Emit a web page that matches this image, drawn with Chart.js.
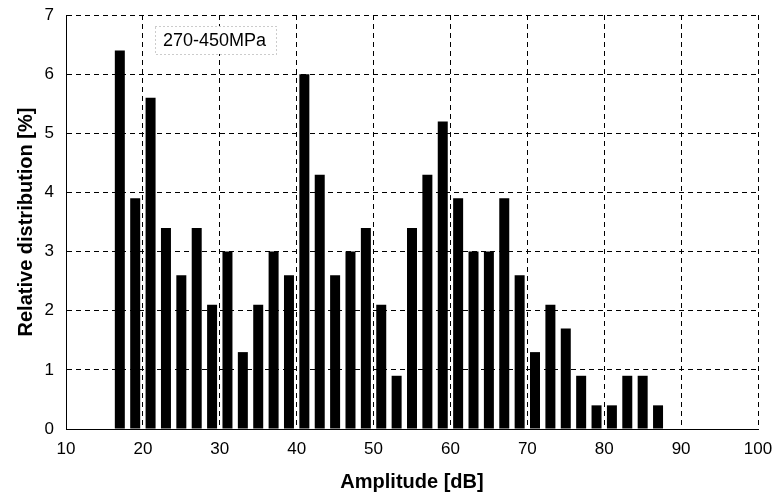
<!DOCTYPE html>
<html>
<head>
<meta charset="utf-8">
<script src="https://cdn.jsdelivr.net/npm/chart.js@4/dist/chart.umd.min.js"></script>
<style>
  html, body { margin: 0; padding: 0; background: #fff; }
  #wrap { width: 776px; height: 498px; }
</style>
</head>
<body>
<div id="wrap"><canvas id="chart"></canvas></div>
<script>
// amplitude classes (dB) and relative distribution (%)
const amplitudes = [17, 19, 21, 23, 25, 27, 29, 31, 33, 35, 37, 39, 41, 43, 45, 47, 49, 51,
                    53, 55, 57, 59, 61, 63, 65, 67, 69, 71, 73, 75, 77, 79, 81, 83, 85, 87];
const distribution = [6.4, 3.9, 5.6, 3.4, 2.6, 3.4, 2.1, 3.0, 1.3, 2.1, 3.0, 2.6, 6.0, 4.3, 2.6, 3.0, 3.4, 2.1,
                      0.9, 3.4, 4.3, 5.2, 3.9, 3.0, 3.0, 3.9, 2.6, 1.3, 2.1, 1.7, 0.9, 0.4, 0.4, 0.9, 0.9, 0.4];
const label = "270-450MPa";

const font = "Arial, 'Liberation Sans', sans-serif";

// little dotted box with the stress range
const labelBox = {
  id: "labelBox",
  afterDraw(chart) {
    const ctx = chart.ctx;
    const a = chart.chartArea;
    const x = a.left + 89, y = a.top + 11, w = 121, h = 28;
    ctx.save();
    ctx.fillStyle = "#fff";
    ctx.fillRect(x, y, w, h);
    ctx.strokeStyle = "#999";
    ctx.lineWidth = 1;
    ctx.setLineDash([1, 3]);
    ctx.strokeRect(x + 0.5, y + 0.5, w, h);
    ctx.setLineDash([]);
    ctx.fillStyle = "#000";
    ctx.font = "18px " + font;
    ctx.textBaseline = "middle";
    ctx.fillText(label, x + 8, y + h / 2 + 1);
    ctx.restore();
  }
};

new Chart(document.getElementById("chart").getContext("2d"), {
  type: "bar",
  data: {
    datasets: [{
      data: amplitudes.map((a, i) => ({ x: a, y: distribution[i] })),
      backgroundColor: "#000",
      borderWidth: 0,
      barPercentage: 0.65,
      categoryPercentage: 1
    }]
  },
  options: {
    responsive: true,
    maintainAspectRatio: false,
    animation: false,
    layout: { padding: { top: 15, right: 18, left: 0, bottom: 0 } },
    plugins: { legend: { display: false }, tooltip: { enabled: false } },
    scales: {
      x: {
        type: "linear",
        min: 10,
        max: 100,
        offset: false,
        afterFit: s => { s.height = 69; s.paddingLeft = 0; s.paddingRight = 0; },
        ticks: { stepSize: 10, color: "#000", padding: 10, maxRotation: 0, font: { family: font, size: 17 } },
        grid: { color: "#000", drawTicks: false, offset: false },
        border: { display: true, color: "#000", dash: [5, 4] },
        title: { display: true, text: "Amplitude [dB]", color: "#000", padding: { top: 0, bottom: 4 },
                 font: { family: font, size: 20, weight: "bold" } }
      },
      y: {
        min: 0,
        max: 7,
        afterFit: s => { s.width = 66; s.paddingTop = 0; s.paddingBottom = 0; },
        ticks: { stepSize: 1, color: "#000", padding: 12, font: { family: font, size: 17 } },
        grid: { color: "#000", drawTicks: false },
        border: { display: true, color: "#000", dash: [5, 4] },
        title: { display: true, text: "Relative distribution [%]", color: "#000", padding: { top: 14, bottom: 0 },
                 font: { family: font, size: 20, weight: "bold" } }
      }
    }
  },
  plugins: [labelBox]
});
</script>
</body>
</html>
